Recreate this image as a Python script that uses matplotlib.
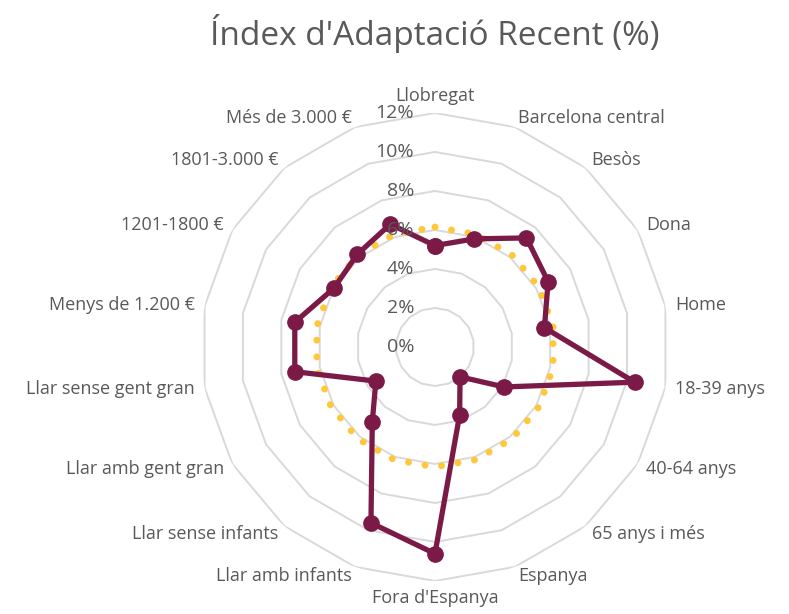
import numpy as np
import matplotlib
matplotlib.use('Agg')
import matplotlib.pyplot as plt

# Categories, clockwise from the top
categories = ['Llobregat', 'Barcelona central', 'Besòs', 'Dona', 'Home',
              '18-39 anys', '40-64 anys', '65 anys i més', 'Espanya',
              "Fora d'Espanya", 'Llar amb infants', 'Llar sense infants',
              'Llar amb gent gran', 'Llar sense gent gran', 'Menys de 1.200 €',
              '1201-1800 €', '1801-3.000 €', 'Més de 3.000 €']
# Index per group (%)
index_values = [5.2, 5.9, 7.3, 6.7, 5.7, 10.4, 4.1, 2.0, 3.7,
                10.6, 9.6, 5.0, 3.5, 7.3, 7.3, 6.0, 6.2, 6.7]
# Overall average (%)
average_values = [6.15, 6.15, 6.15, 6.15, 6.15, 6.15, 6.15, 6.15, 6.15,
                  6.15, 6.15, 6.15, 6.15, 6.15, 6.15, 6.15, 6.15, 6.15]
ring_values = [2, 4, 6, 8, 10, 12]
ring_labels = ['0%', '2%', '4%', '6%', '8%', '10%', '12%']

text_color = '#595959'
grid_color = '#D9D9D9'
plt.rcParams['font.family'] = ['Open Sans', 'DejaVu Sans']

n = len(categories)
theta = np.arange(n) * 2*np.pi/n
theta_closed = np.append(theta, theta[0])

fig = plt.figure(figsize=(7.89, 6.14), dpi=100)
ax = fig.add_axes([0.2547, 0.0538, 0.5932, 0.7622], projection='polar')
ax.set_theta_zero_location('N')
ax.set_theta_direction(-1)
ax.set_ylim(0, 12)
ax.axis('off')

# Polygon gridlines
for rv in ring_values:
    ax.plot(theta_closed, [rv]*(n+1), color=grid_color, lw=1.4, zorder=1)

# Average line (dotted)
avg = np.append(average_values, average_values[0])
ax.plot(theta_closed, avg, color='#FFC83A', lw=5.0, linestyle=(0, (0.01, 2.4)),
        dash_capstyle='round', zorder=2)

# Index line
vals = np.append(index_values, index_values[0])
ax.plot(theta_closed, vals, color='#7B1A47', lw=3.8, marker='o', ms=11,
        zorder=3)

# Radial tick labels along the vertical axis
for i, lab in enumerate(ring_labels):
    ax.annotate(lab, xy=(0, 2*i), xytext=(-15, 0), textcoords='offset points',
                ha='right', va='center', fontsize=14, color=text_color)

# Category labels
for th, lab in zip(theta, categories):
    s = np.sin(th)
    if abs(s) < 0.01:
        ha = 'center'
        va = 'bottom' if np.cos(th) > 0 else 'top'
        r = 12.4
    else:
        ha = 'left' if s > 0 else 'right'
        va = 'center'
        r = 12.5
    ax.text(th, r, lab, ha=ha, va=va, fontsize=13, color=text_color)

fig.text(0.551, 0.945, "Índex d'Adaptació Recent (%)", ha='center', va='center',
         fontsize=24, color=text_color)

fig.savefig('out.png', dpi=100)
